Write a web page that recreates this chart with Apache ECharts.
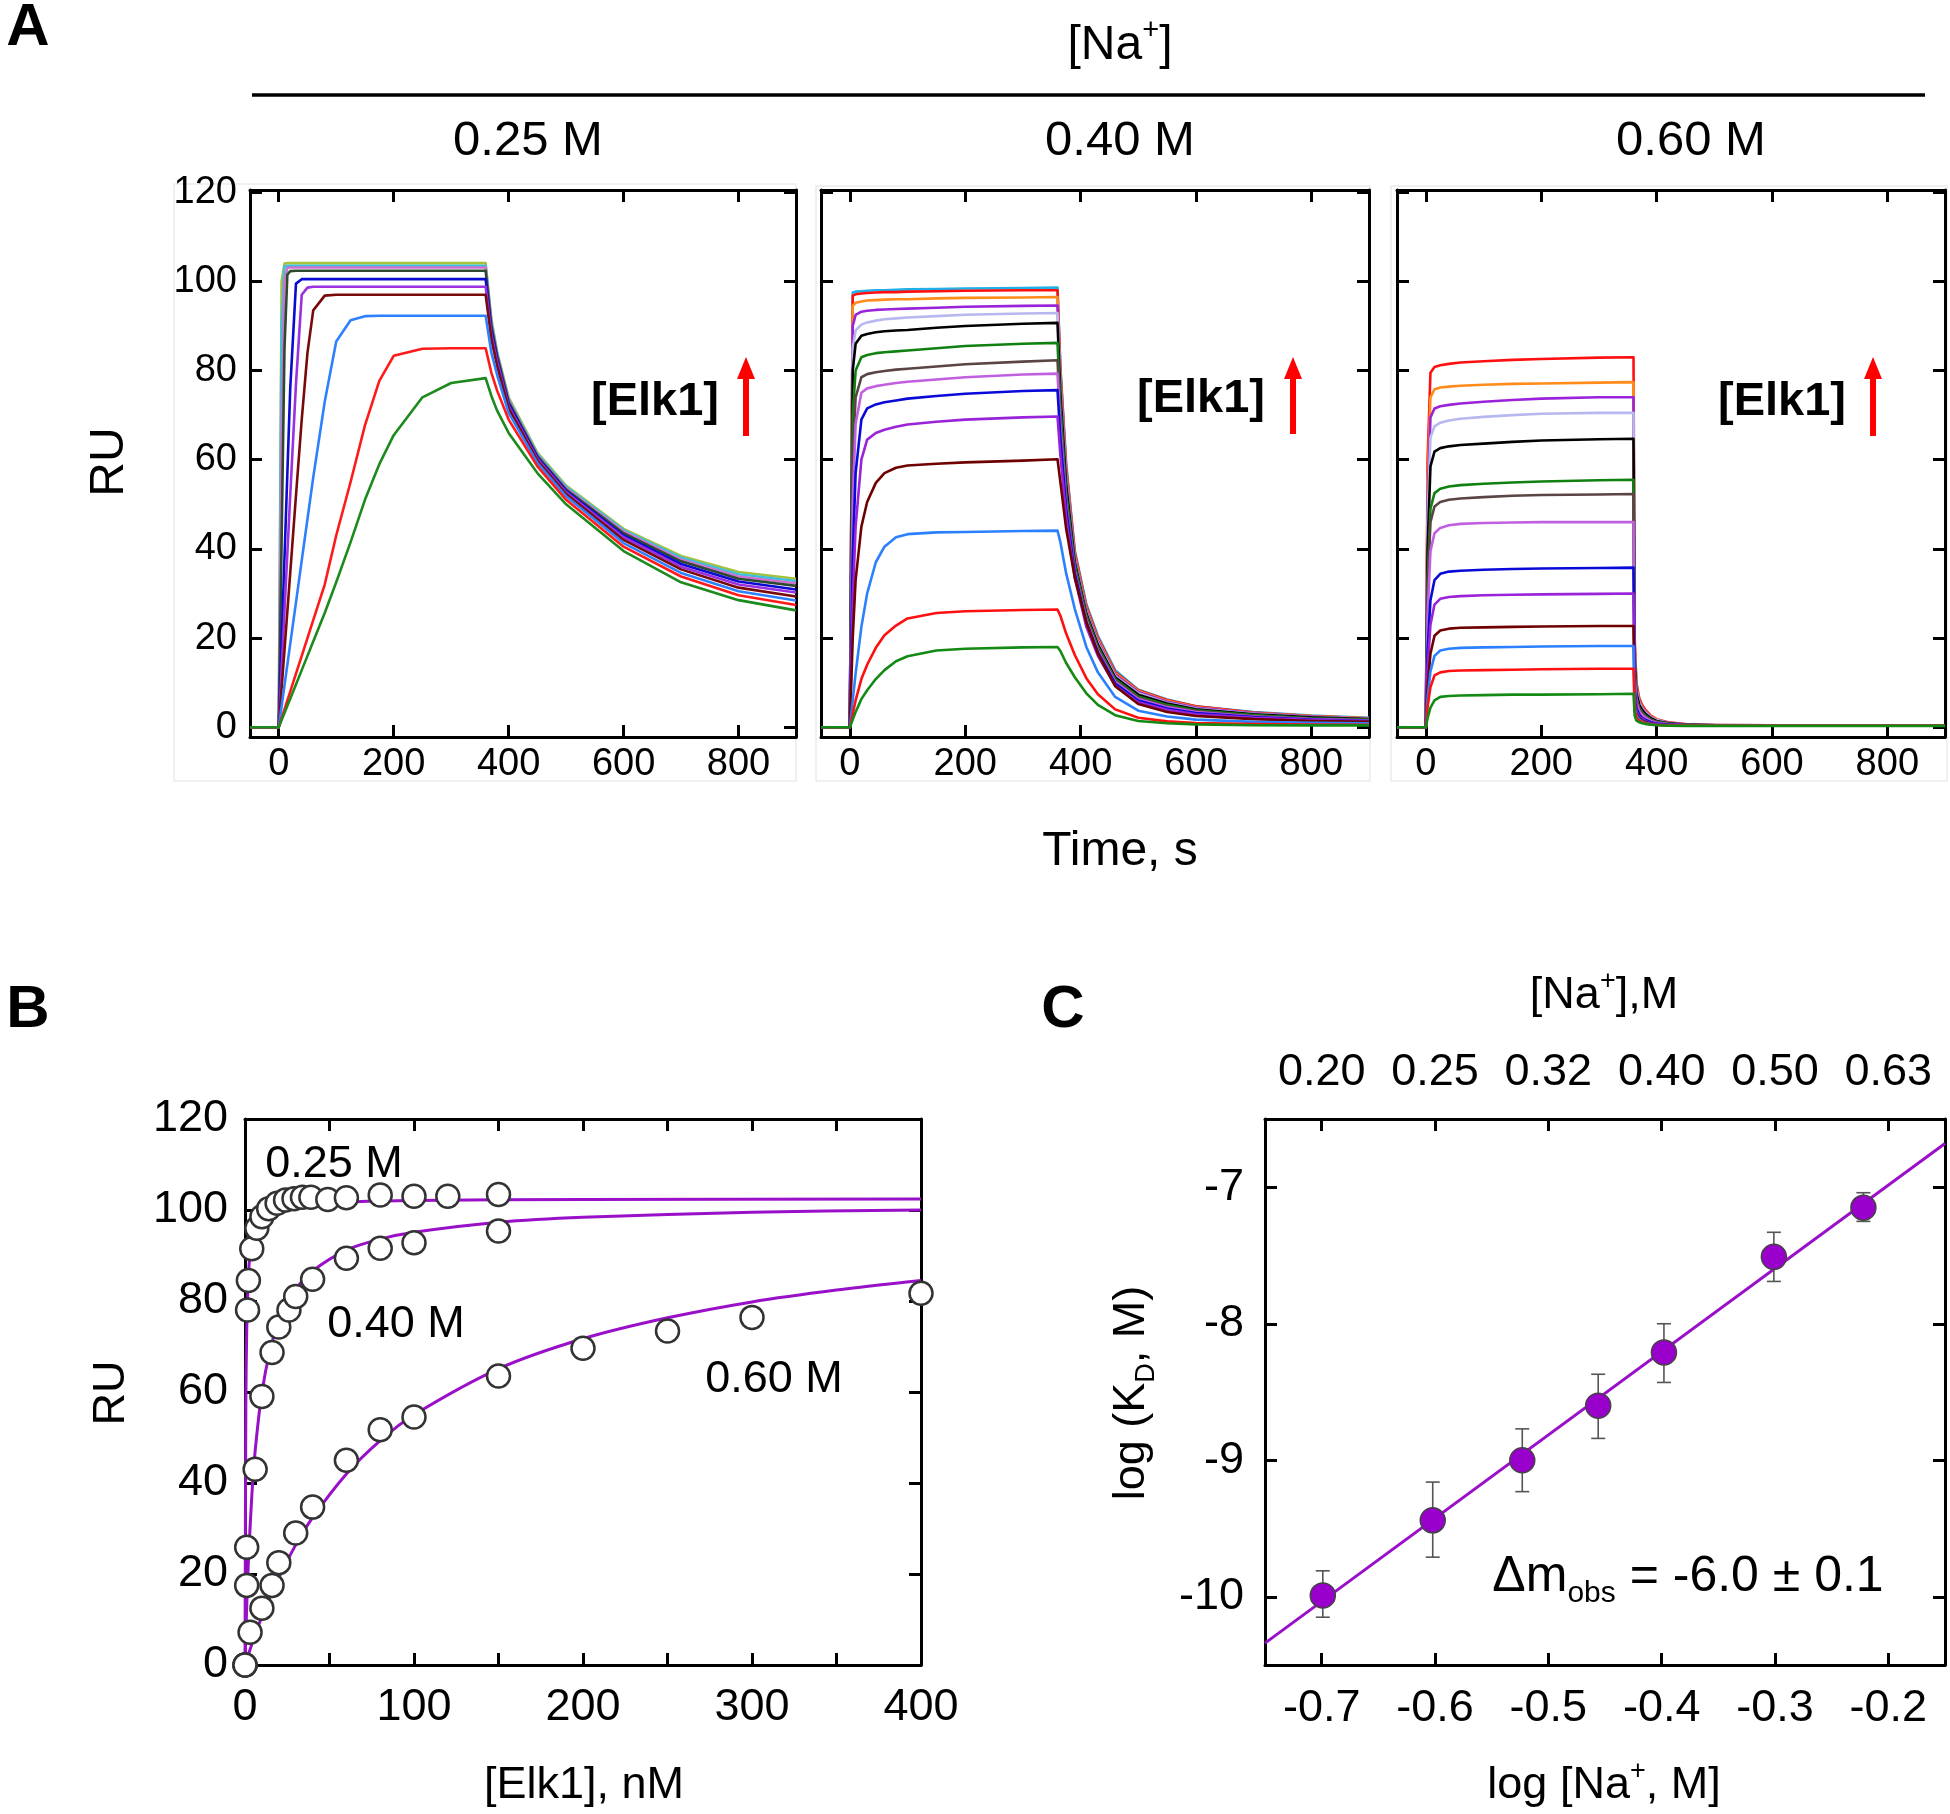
<!DOCTYPE html>
<html><head><meta charset="utf-8">
<script src="https://cdn.jsdelivr.net/npm/echarts@6/dist/echarts.min.js"></script>
<style>html,body{margin:0;padding:0;background:#fff}#c{width:1950px;height:1814px}</style>
</head><body><div id="c"></div><script>
// ---------- Panel A data (SPR sensorgrams) ----------
const tA1 = [-50,0,5,10,15,20,30,40,50,60,80,100,125,150,175,200,250,300,360,370,380,400,450,500,600,700,800,900];
const a1Green   = [0,0,1.6,3.2,4.8,6.4,9.6,12.8,16,19.2,25.6,32.5,41.5,51,59,65.5,74,77.2,78.3, 74.3,71,66,57,50,39.5,32.5,28.5,26.2];
const a1Red     = [0,0,2,4,6,8,12,16,20,24,32,43,55,67.7,77.7,83.3,84.9,85,85, 79.5,75.5,69,58.5,51,40.5,33.8,29.6,27.4];
const a1LtBlue  = [0,0,4.7,9.4,14,18.7,28,37.4,46.7,56,73,86.5,91.3,92.2,92.3,92.3,92.3,92.3,92.3, 84,79,70.5,59.3,51.8,41.3,34.6,30.5,28.4];
const a1Maroon  = [0,0,8.7,17.3,26,34.6,52,69,84,93.5,96.8,97,97,97,97,97,97,97,97, 87,81,71.5,59.8,52.3,42,35.4,31.3,29.3];
const a1Purple  = [0,0,13,26,39,52,77,97,98.6,98.8,98.8,98.8,98.8,98.8,98.8,98.8,98.8,98.8,98.8, 88,82,72,60.2,52.7,42.6,36,32,30.2];
const a1Blue    = [0,0,19,38,57,76,99.5,100.5,100.5,100.5,100.5,100.5,100.5,100.5,100.5,100.5,100.5,100.5,100.5, 89,82.6,72.5,60.5,53,43,36.6,32.7,30.9];
const a1DkGreen = [0,0,42,85,101.5,102.3,102.4,102.4,102.4,102.4,102.4,102.4,102.4,102.4,102.4,102.4,102.4,102.4,102.4, 90,83.3,73,60.8,53.3,43.5,37.2,33.3,31.7];
const a1Magenta = [0,0,65,100,103,103.1,103.1,103.1,103.1,103.1,103.1,103.1,103.1,103.1,103.1,103.1,103.1,103.1,103.1, 90.5,83.6,73.3,61,53.6,43.9,37.6,33.8,32.3];
const a1Cyan    = [0,0,90,103.3,103.5,103.5,103.5,103.5,103.5,103.5,103.5,103.5,103.5,103.5,103.5,103.5,103.5,103.5,103.5, 91,83.9,73.6,61.3,53.9,44.2,38,34.3,32.8];
const a1Olive   = [0,0,100,104,104.1,104.1,104.1,104.1,104.1,104.1,104.1,104.1,104.1,104.1,104.1,104.1,104.1,104.1,104.1, 91.5,84.2,74,61.6,54.2,44.5,38.4,34.8,33.3];

const tA2 = [-50,0,5,10,20,30,45,60,80,100,150,200,300,360,365,375,390,410,430,460,500,550,600,700,800,900];
const a2Green   = [0,0,1.7,3.4,6.3,8.3,10.8,12.8,14.8,15.9,17.2,17.6,17.9, 18,17.1,14.4,11.2,7.6,5,2.7,1.4,0.9,0.63,0.45,0.4,0.4];
const a2Red     = [0,0,3,6,10.8,14,17.8,20.6,22.8,24.4,25.6,26,26.3, 26.4,25,21,16.2,11,7.4,4,2.1,1.3,0.95,0.7,0.6,0.55];
const a2LtBlue  = [0,0,6,12,22.5,30,37,40.5,42.6,43.3,43.7,43.8,44, 44.1,41.5,34.5,26.5,18,12.3,6.8,3.7,2.4,1.7,1.2,1,0.9];
const a2Maroon  = [0,0,20,33,45,50.5,54.8,57,58.2,58.7,59.1,59.4,59.8, 60.1,55,44.5,33.5,23.5,16.5,9.2,5.2,3.4,2.5,1.8,1.4,1.2];
const a2Violet  = [0,0,28,45,60,64.5,66,66.7,67.4,67.9,68.5,69,69.5, 69.7,61,47,33.5,22.5,16,9.3,5.6,3.9,2.9,2.1,1.6,1.3];
const a2Blue    = [0,0,38,57,69,71.5,72.4,72.9,73.3,73.7,74.3,74.8,75.4, 75.6,65,49,34.5,23.5,16.8,9.8,6,4.2,3.2,2.3,1.7,1.4];
const a2Orchid  = [0,0,50,68,75,76,76.5,76.8,77.2,77.5,78,78.5,79.1, 79.3,67.5,50,35,24,17.2,10.2,6.3,4.5,3.4,2.4,1.8,1.5];
const a2Brown   = [0,0,60,74,78.5,79.2,79.6,79.9,80.2,80.4,80.9,81.4,82, 82.3,69.5,51,35.5,24.5,17.6,10.5,6.6,4.7,3.6,2.5,1.9,1.6];
const a2Green2  = [0,0,70,80,83,83.5,83.9,84.1,84.3,84.5,85,85.5,86, 86.2,72,52.5,36.3,25,18,10.8,6.9,5,3.8,2.7,2,1.7];
const a2Black   = [0,0,80,86,87.8,88.2,88.6,88.8,89,89.1,89.6,90,90.5, 90.7,75,54.5,37,25.5,18.5,11.2,7.3,5.3,4,2.9,2.2,1.8];
const a2Lavender= [0,0,85,89,90.3,90.8,91.2,91.5,91.7,91.9,92.2,92.5,92.8, 92.9,76.5,55.5,37.5,25.9,18.9,11.5,7.6,5.5,4.2,3,2.3,1.9];
const a2Purple  = [0,0,90,92.5,93.2,93.4,93.6,93.7,93.8,93.9,94.1,94.3,94.5, 94.6,77.7,56.5,38,26.3,19.3,11.8,7.9,5.7,4.4,3.1,2.4,1.9];
const a2Orange  = [0,0,94.5,95.2,95.5,95.7,95.8,95.9,96,96,96.2,96.3,96.4, 96.5,79,57.5,38.5,26.7,19.7,12.1,8.1,5.9,4.5,3.2,2.5,2];
const a2Red2    = [0,0,96.8,97.1,97.3,97.4,97.5,97.6,97.6,97.7,97.8,97.9,98, 98,80.3,58.5,39.2,27.2,20.1,12.4,8.3,6.1,4.7,3.3,2.5,2];
const a2Cyan    = [0,0,97.5,97.7,97.8,97.9,98,98,98.1,98.2,98.3,98.4,98.5, 98.6,80.8,59.2,39.6,27.6,20.5,12.8,8.4,6.2,4.7,3.4,2.6,2.1];

const tA3 = [-50,0,3,8,15,25,40,60,100,150,200,300,360,362,365,370,375,380,390,400,420,450,500,600,900];
const a3Green   = [0,0,2,4.4,6,6.8,7,7.1,7.2,7.3,7.3,7.4, 7.5,2.6,1.5,1.1,0.9,0.75,0.55,0.45,0.35,0.3,0.3,0.3,0.3];
const a3Red     = [0,0,4.5,9,11.6,12.3,12.6,12.7,12.8,12.9,13,13.1, 13.1,3.8,2.1,1.4,1.1,0.9,0.6,0.5,0.4,0.35,0.35,0.35,0.35];
const a3LtBlue  = [0,0,6.5,12.5,16,17.2,17.6,17.8,17.9,18,18.1,18.2, 18.2,4.8,2.6,1.7,1.3,1,0.7,0.55,0.45,0.4,0.4,0.4,0.4];
const a3Maroon  = [0,0,9,16.5,20.5,21.7,22.1,22.3,22.4,22.5,22.6,22.7, 22.7,5.8,3,2,1.5,1.2,0.8,0.6,0.5,0.4,0.4,0.4,0.4];
const a3Violet  = [0,0,13,23,27.5,28.8,29.2,29.4,29.6,29.7,29.8,29.9, 30,7.2,3.6,2.3,1.8,1.4,0.9,0.7,0.5,0.4,0.4,0.4,0.4];
const a3Blue    = [0,0,17,28.5,33,34.4,34.9,35.1,35.3,35.5,35.6,35.7, 35.8,8.6,4.3,2.8,2.1,1.7,1.1,0.8,0.6,0.4,0.4,0.4,0.4];
const a3Orchid  = [0,0,25,39.5,43.5,44.7,45.3,45.6,45.8,45.9,46,46, 46,11,5.5,3.6,2.8,2.2,1.4,1,0.7,0.5,0.4,0.4,0.4];
const a3Brown   = [0,0,30,46,49.5,50.5,51,51.3,51.6,51.9,52.1,52.2, 52.3,12.6,6.3,4.1,3.1,2.5,1.6,1.2,0.7,0.5,0.4,0.4,0.4];
const a3Green2  = [0,0,33,49,52.5,53.5,54,54.3,54.6,54.9,55.1,55.4, 55.5,13.3,6.7,4.3,3.3,2.7,1.7,1.2,0.8,0.5,0.4,0.4,0.4];
const a3Black   = [0,0,40,58.5,61.8,62.6,63,63.3,63.6,64,64.3,64.6, 64.7,15.5,7.8,5,3.9,3.1,2,1.4,0.9,0.6,0.4,0.4,0.4];
const a3Lavender= [0,0,46,65,67.5,68.3,68.8,69.2,69.6,70,70.3,70.5, 70.5,16.9,8.5,5.5,4.2,3.4,2.2,1.6,0.9,0.6,0.5,0.4,0.4];
const a3Purple  = [0,0,50,69.5,71.5,72,72.3,72.6,73,73.4,73.7,74, 74,17.8,8.9,5.8,4.4,3.6,2.3,1.6,1,0.6,0.5,0.4,0.4];
const a3Orange  = [0,0,55,74,75.8,76.2,76.4,76.6,76.8,77,77.1,77.3, 77.4,18.6,9.3,6,4.6,3.7,2.4,1.7,1,0.6,0.5,0.4,0.4];
const a3Red2    = [0,0,60,79.5,80.8,81.2,81.5,81.8,82.1,82.4,82.6,82.9, 83,20,10,6.5,5,4,2.6,1.8,1.1,0.7,0.5,0.4,0.4];

const aXTicks = [0,200,400,600,800];
const aYTicks = [0,20,40,60,80,100,120];

// ---------- Panel B data ----------
const b25x = [0,1,1.5,2,4,7,10,14,19,24,29,34,39,49,60,80,100,120,150];
const b25y = [0,25.9,78,84.5,91.5,96,98.5,100.3,101.5,102.2,102.5,102.8,102.8,102.3,102.7,103.3,103,103,103.4];
const b40x = [0,1,6,10,16,20,26,30,40,60,80,100,150];
const b40y = [0,17.5,43,59,68.7,74.3,78,81,84.8,89.4,91.6,92.8,95.4];
const b60x = [0,3,10,16,20,30,40,60,80,100,150,200,250,300,400];
const b60y = [0,7.2,12.5,17.5,22.5,29,34.7,45,51.7,54.5,63.5,69.6,73.4,76.4,81.7];
const fit25x = [0,0.5,1,2,3,5,8,12,20,40,100,200,400];
const fit25y = [0,57,73.2,85.4,90.4,95,97.7,99.2,100.5,101.5,102.1,102.3,102.4];
const fit40x = [0,1,2,4,6,10,15,20,30,40,60,80,100,150,200,300,400];
const fit40y = [0,12.7,22.6,37,47,59.9,69.4,75.4,82.5,86.6,91.2,93.6,95.1,97.3,98.4,99.5,100];
const fit60x = [0,5,10,20,30,40,60,80,100,150,200,250,300,350,400];
const fit60y = [0,5.6,10.6,19.2,26.4,32.4,42,49.3,55,65.1,71.7,76.3,79.8,82.4,84.5];
const bXTicks = [0,50,100,150,200,250,300,350,400];
const bXLabels = [0,100,200,300,400];
const bYTicks = [0,20,40,60,80,100,120];

// ---------- Panel C data ----------
const cLogNa = [-0.699,-0.602,-0.523,-0.456,-0.398,-0.301,-0.222];
const cLogKd = [-9.99,-9.44,-9.0,-8.6,-8.21,-7.51,-7.15];
const cErrLo = [-10.15,-9.71,-9.23,-8.84,-8.43,-7.69,-7.25];
const cErrHi = [-9.81,-9.16,-8.77,-8.37,-8.0,-7.33,-7.04];
const cFitX = [-0.75,-0.15];
const cFitY = [-10.34,-6.68];
const cXTicks = [-0.7,-0.6,-0.5,-0.4,-0.3,-0.2];
const cTopLabels = ['0.20','0.25','0.32','0.40','0.50','0.63'];
const cYTicks = [-10,-9,-8,-7];

// ---------- layout ----------
const FONT = "'Liberation Sans', Arial, Helvetica, sans-serif";
const grids = [
  {left:250, top:190, width:546, height:547},
  {left:821, top:190, width:548, height:547},
  {left:1397, top:190, width:548, height:547},
  {left:245, top:1119, width:676, height:546},
  {left:1265, top:1119, width:680, height:546}
];
const xAxes = [], yAxes = [];
function addAxes(g, xr, yr, xt, yt, o) {
  const line = {show:true, onZero:false, lineStyle:{color:'#000', width:3}};
  const tick = (vals, len) => ({show:true, inside:true, length:len, customValues:vals, lineStyle:{color:'#000', width:3}});
  xAxes.push({gridIndex:g, type:'value', position:'bottom', min:xr[0], max:xr[1], axisLine:line,
    axisTick:tick(xt, o.tl), splitLine:{show:false},
    axisLabel:{show:true, customValues:o.xl || xt, color:'#000', fontSize:o.fs, fontFamily:FONT, margin:o.xm, hideOverlap:false, showMinLabel:true, showMaxLabel:true}});
  xAxes.push({gridIndex:g, type:'value', position:'top', min:xr[0], max:xr[1], axisLine:line,
    axisTick:tick(xt, o.tl), splitLine:{show:false},
    axisLabel:o.top ? {show:true, customValues:xt, color:'#000', fontSize:o.fs, fontFamily:FONT, margin:o.tm,
      formatter:v => { const i = xt.findIndex(t => Math.abs(t - v) < 1e-6); return i >= 0 ? cTopLabels[i] : ''; }} : {show:false}});
  yAxes.push({gridIndex:g, type:'value', position:'left', min:yr[0], max:yr[1], axisLine:line,
    axisTick:tick(yt, o.tl), splitLine:{show:false},
    axisLabel:{show:o.yLab, customValues:yt, color:'#000', fontSize:o.fs, fontFamily:FONT, margin:o.ym, showMinLabel:true, showMaxLabel:true}});
  yAxes.push({gridIndex:g, type:'value', position:'right', min:yr[0], max:yr[1], axisLine:line,
    axisTick:tick(yt, o.tl), splitLine:{show:false}, axisLabel:{show:false}});
}
addAxes(0, [-50,900], [-2.2,120.5], aXTicks, aYTicks, {fs:38, xm:9, ym:13, tl:12, yLab:true});
addAxes(1, [-50,900], [-2.2,120.5], aXTicks, aYTicks, {fs:38, xm:9, ym:13, tl:12, yLab:false});
addAxes(2, [-50,900], [-2.2,120.5], aXTicks, aYTicks, {fs:38, xm:9, ym:13, tl:12, yLab:false});
addAxes(3, [0,400], [0,120], bXTicks, bYTicks, {fs:45, xm:20, ym:17, tl:12, yLab:true, xl:bXLabels});
addAxes(4, [-0.75,-0.15], [-10.5,-6.5], cXTicks, cYTicks, {fs:45, xm:21, ym:21, tl:12, yLab:true, top:true, tm:24});

const series = [];
function sens(g, T, vals, color) {
  series.push({type:'line', xAxisIndex:g*2, yAxisIndex:g*2, data:T.map((t,i)=>[t, vals[i]]),
    showSymbol:false, symbol:'none', lineStyle:{color:color, width:2.6, join:'round'}, silent:true, animation:false});
}
// A1
[[a1Olive,'#a4c23c'],[a1Cyan,'#3cc0e0'],[a1Magenta,'#d070d0'],[a1DkGreen,'#2e4a2e'],[a1Blue,'#0a0ad0'],
 [a1Purple,'#9b30e0'],[a1Maroon,'#7a0a0a'],[a1LtBlue,'#2f80ff'],[a1Red,'#ff1a1a'],[a1Green,'#1c8a1c']]
 .forEach(c => sens(0, tA1, c[0], c[1]));
// A2
[[a2Cyan,'#20b0e8'],[a2Red2,'#ff1010'],[a2Orange,'#ff8c1a'],[a2Purple,'#9a22d8'],[a2Lavender,'#b8b8f0'],
 [a2Black,'#000000'],[a2Green2,'#108010'],[a2Brown,'#5a4444'],[a2Orchid,'#c060e0'],[a2Blue,'#0a0ad8'],
 [a2Violet,'#9a22d8'],[a2Maroon,'#6e0000'],[a2LtBlue,'#2a80ff'],[a2Red,'#ff1010'],[a2Green,'#138a13']]
 .forEach(c => sens(1, tA2, c[0], c[1]));
// A3
[[a3Red2,'#ff1010'],[a3Orange,'#ff8c1a'],[a3Purple,'#9a22d8'],[a3Lavender,'#b8b8f0'],[a3Black,'#000000'],
 [a3Green2,'#108010'],[a3Brown,'#5a4444'],[a3Orchid,'#c060e0'],[a3Blue,'#0a0ad8'],[a3Violet,'#9a22d8'],
 [a3Maroon,'#6e0000'],[a3LtBlue,'#2a80ff'],[a3Red,'#ff1010'],[a3Green,'#138a13']]
 .forEach(c => sens(2, tA3, c[0], c[1]));

// B fits + points
[[fit25x,fit25y],[fit40x,fit40y],[fit60x,fit60y]].forEach(f => series.push({type:'line', xAxisIndex:6, yAxisIndex:6,
  data:f[0].map((x,i)=>[x, f[1][i]]), showSymbol:false, symbol:'none', smooth:0.3,
  lineStyle:{color:'#9910c8', width:3}, animation:false, z:2}));
[[b25x,b25y],[b40x,b40y],[b60x,b60y]].forEach(d => series.push({type:'scatter', xAxisIndex:6, yAxisIndex:6,
  data:d[0].map((x,i)=>[x, d[1][i]]), symbol:'circle', symbolSize:23,
  itemStyle:{color:'#fff', borderColor:'#333', borderWidth:2.5, opacity:1}, animation:false, z:3, clip:false}));

// C fit, error bars, points
series.push({type:'line', xAxisIndex:8, yAxisIndex:8, data:cFitX.map((x,i)=>[x, cFitY[i]]),
  showSymbol:false, symbol:'none', lineStyle:{color:'#9910c8', width:3}, animation:false, z:2});
series.push({type:'custom', xAxisIndex:8, yAxisIndex:8, data:cLogNa.map((x,i)=>[x, cErrLo[i], cErrHi[i]]),
  encode:{x:0, y:[1,2]}, z:3, animation:false,
  renderItem:(p, api) => {
    const lo = api.coord([api.value(0), api.value(1)]);
    const hi = api.coord([api.value(0), api.value(2)]);
    const w = 7, st = {stroke:'#555', lineWidth:1.6};
    return {type:'group', children:[
      {type:'line', shape:{x1:lo[0], y1:lo[1], x2:hi[0], y2:hi[1]}, style:st},
      {type:'line', shape:{x1:lo[0]-w, y1:lo[1], x2:lo[0]+w, y2:lo[1]}, style:st},
      {type:'line', shape:{x1:hi[0]-w, y1:hi[1], x2:hi[0]+w, y2:hi[1]}, style:st}]};
  }});
series.push({type:'scatter', xAxisIndex:8, yAxisIndex:8, data:cLogNa.map((x,i)=>[x, cLogKd[i]]),
  symbol:'circle', symbolSize:25, itemStyle:{color:'#9900cc', borderColor:'#444', borderWidth:1.5, opacity:1}, z:4, animation:false});

// ---------- text annotations ----------
function txt(x, y, text, size, opt) {
  opt = opt || {};
  return {type:'text', x:x, y:y, rotation:opt.rot || 0, z:10, silent:true,
    style:{text:text, fontSize:size, fontFamily:FONT, fontWeight:opt.bold ? 'bold' : 'normal',
      fill:'#000', textAlign:'center', textVerticalAlign:'middle'}};
}
function richTxt(x, y, text, size, rot) {
  return {type:'text', x:x, y:y, rotation:rot || 0, z:10, silent:true,
    style:{text:text, fill:'#000', textAlign:'center', textVerticalAlign:'middle', fontFamily:FONT, fontSize:size,
      rich:{n:{fontSize:size, fontFamily:FONT, lineHeight:size*1.25, fill:'#000'},
            sup:{fontSize:Math.round(size*0.6), fontFamily:FONT, verticalAlign:'top', fill:'#000'},
            sub:{fontSize:Math.round(size*0.6), fontFamily:FONT, verticalAlign:'bottom', fill:'#000'}}}};
}
function arrow(x, yBottom, yTop) {
  return [{type:'line', z:10, silent:true, shape:{x1:x, y1:yBottom, x2:x, y2:yTop+18}, style:{stroke:'#ff0000', lineWidth:6}},
          {type:'polygon', z:10, silent:true, shape:{points:[[x-9, yTop+22],[x+9, yTop+22],[x, yTop]]}, style:{fill:'#ff0000'}}];
}
const graphic = [
  {type:'rect', z:0, silent:true, shape:{x:174, y:184, width:622, height:597}, style:{fill:'none', stroke:'#ebebeb', lineWidth:1.5}},
  {type:'rect', z:0, silent:true, shape:{x:816, y:186, width:554, height:595}, style:{fill:'none', stroke:'#ebebeb', lineWidth:1.5}},
  {type:'rect', z:0, silent:true, shape:{x:1391, y:186, width:556, height:595}, style:{fill:'none', stroke:'#ebebeb', lineWidth:1.5}},
  txt(28, 28, 'A', 60, {bold:true}),
  txt(28, 1010, 'B', 60, {bold:true}),
  txt(1063, 1010, 'C', 60, {bold:true}),
  richTxt(1120, 46, '{n|[Na}{sup|+}{n|]}', 48),
  {type:'line', z:10, silent:true, shape:{x1:252, y1:95, x2:1925, y2:95}, style:{stroke:'#000', lineWidth:3.5}},
  txt(528, 141, '0.25 M', 49), txt(1120, 141, '0.40 M', 49), txt(1691, 141, '0.60 M', 49),
  txt(110, 462, 'RU', 48, {rot:Math.PI/2}),
  txt(1120, 852, 'Time, s', 48),
  txt(655, 402, '[Elk1]', 47, {bold:true}), ...arrow(746, 436, 357),
  txt(1201, 399, '[Elk1]', 47, {bold:true}), ...arrow(1293, 434, 357),
  txt(1782, 402, '[Elk1]', 47, {bold:true}), ...arrow(1873, 436, 357),
  txt(112, 1393, 'RU', 45, {rot:Math.PI/2}),
  txt(584, 1786, '[Elk1], nM', 45),
  txt(334, 1165, '0.25 M', 45), txt(396, 1325, '0.40 M', 45), txt(774, 1380, '0.60 M', 45),
  richTxt(1604, 996, '{n|[Na}{sup|+}{n|],M}', 45),
  richTxt(1132, 1393, '{n|log (K}{sub|D}{n|, M)}', 45, Math.PI/2),
  richTxt(1604, 1786, '{n|log [Na}{sup|+}{n|, M]}', 45),
  richTxt(1688, 1577, '{n|Δm}{sub|obs}{n| = -6.0 ± 0.1}', 50)
];

const chart = echarts.init(document.getElementById('c'), null, {renderer:'canvas'});
chart.setOption({animation:false, backgroundColor:'#fff', grid:grids, xAxis:xAxes, yAxis:yAxes, series:series, graphic:graphic});
</script></body></html>
